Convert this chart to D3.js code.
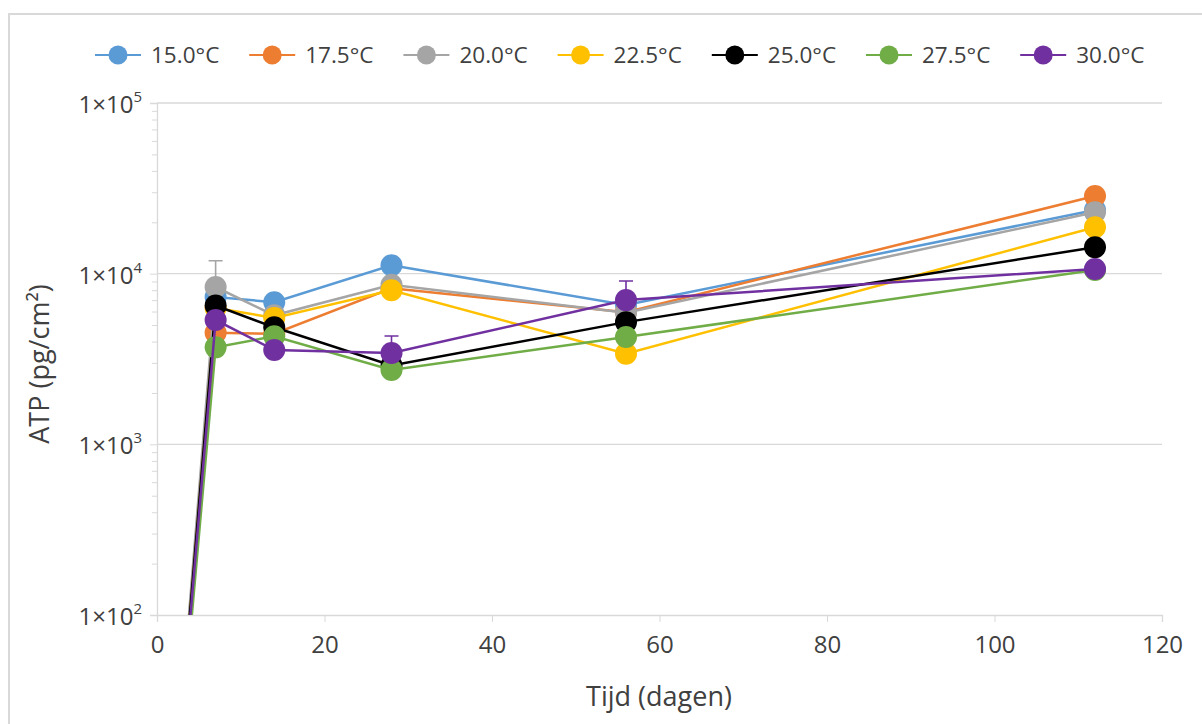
<!DOCTYPE html>
<html>
<head>
<meta charset="utf-8">
<script src="https://cdn.jsdelivr.net/npm/d3@7"></script>
<style>
  body { margin: 0; background: #fff; }
  svg { display: block; font-family: "Open Sans", sans-serif; }
</style>
</head>
<body>
<svg width="1202" height="724"></svg>
<script>
// data (day 0 value sits far below the axis, clipped)
const days = [0, 7, 14, 28, 56, 112];
const seriesNames = ["15.0°C", "17.5°C", "20.0°C", "22.5°C", "25.0°C", "27.5°C", "30.0°C"];
const colors = ["#5B9BD5", "#ED7D31", "#A5A5A5", "#FFC000", "#000000", "#70AD47", "#7030A0"];
const atp15 = [0.5, 7300, 6800, 11200, 6550, 23600];
const atp175 = [0.5, 4500, 4450, 8200, 5950, 28500];
const atp20 = [0.5, 8350, 5700, 8600, 5900, 22900];
const atp225 = [0.5, 6300, 5500, 8000, 3400, 18700];
const atp25 = [0.5, 6500, 4850, 2900, 5200, 14300];
const atp275 = [0.5, 3700, 4300, 2730, 4250, 10500];
const atp30 = [0.5, 5350, 3570, 3430, 7000, 10650];
// upper error bars that are visible
const err20 = [null, 3550, null, null, null, null];
const err30 = [null, null, null, 880, 2060, null];
const xTicks = [0, 20, 40, 60, 80, 100, 120];
const yTicks = [1e2, 1e3, 1e4, 1e5];

const values = [atp15, atp175, atp20, atp225, atp25, atp275, atp30];
const errors = [null, null, err20, null, null, null, err30];

const svg = d3.select("svg");

// chart frame
svg.append("rect")
  .attr("x", 9).attr("y", 14)
  .attr("width", 1210).attr("height", 730)
  .attr("fill", "none")
  .attr("stroke", "#d9d9d9")
  .attr("stroke-width", 2);

const x = d3.scaleLinear().domain([0, 120]).range([157, 1162]);
const y = d3.scaleLog().domain([1e2, 1e5]).range([615, 103]);

// gridlines
svg.append("g")
  .selectAll("line")
  .data(yTicks.slice(1))
  .join("line")
  .attr("x1", x(0)).attr("x2", x(120))
  .attr("y1", (d) => y(d)).attr("y2", (d) => y(d))
  .attr("stroke", "#d9d9d9")
  .attr("stroke-width", 1.3);

// minor y ticks
const minor = [];
yTicks.slice(0, -1).forEach((t) => {
  for (let k = 2; k < 10; k++) minor.push(t * k);
});

const yMinor = svg.append("g")
  .attr("transform", `translate(${x(0)},0)`)
  .call(d3.axisLeft(y).tickValues(minor).tickSize(5).tickFormat(""));
yMinor.select(".domain").remove();
yMinor.selectAll("line").attr("stroke", "#d9d9d9");

// major y axis
const yAxis = svg.append("g")
  .attr("transform", `translate(${x(0)},0)`)
  .call(d3.axisLeft(y).tickValues(yTicks).tickSize(7).tickPadding(8).tickFormat(""));
yAxis.select(".domain").attr("stroke", "#d9d9d9").attr("stroke-width", 1.3);
yAxis.selectAll("line").attr("stroke", "#d9d9d9");
yAxis.selectAll(".tick text")
  .attr("font-size", 24)
  .attr("fill", "#404040")
  .attr("font-family", "Open Sans")
  .attr("dy", "0.4em")
  .each(function (d) {
    const t = d3.select(this);
    t.text("1×10");
    t.append("tspan")
      .attr("font-size", 15)
      .attr("dy", "-0.75em")
      .text(Math.round(Math.log10(d)));
  });

// x axis
const xAxis = svg.append("g")
  .attr("transform", `translate(0,${y(1e2)})`)
  .call(d3.axisBottom(x).tickValues(xTicks).tickSize(7).tickPadding(14));
xAxis.select(".domain").attr("stroke", "#d9d9d9").attr("stroke-width", 1.3);
xAxis.selectAll("line").attr("stroke", "#d9d9d9");
xAxis.selectAll("text")
  .attr("font-size", 24)
  .attr("fill", "#404040")
  .attr("font-family", "Open Sans");

// axis titles
svg.append("text")
  .attr("x", 659).attr("y", 706)
  .attr("text-anchor", "middle")
  .attr("font-size", 27)
  .attr("fill", "#404040")
  .text("Tijd (dagen)");

svg.append("text")
  .attr("transform", "translate(49,364) rotate(-90)")
  .attr("text-anchor", "middle")
  .attr("font-size", 27)
  .attr("fill", "#404040")
  .text("ATP (pg/cm²)");

// plot clip
svg.append("clipPath").attr("id", "plot")
  .append("rect")
  .attr("x", x(0)).attr("y", 60)
  .attr("width", x(120) - x(0) + 40)
  .attr("height", y(1e2) - 60);

const plot = svg.append("g").attr("clip-path", "url(#plot)");

const line = d3.line()
  .x((d) => x(d[0]))
  .y((d) => y(d[1]));

values.forEach((vals, i) => {
  const pts = days.map((d, j) => [d, vals[j]]);
  const g = plot.append("g");

  g.append("path")
    .datum(pts)
    .attr("d", line)
    .attr("fill", "none")
    .attr("stroke", colors[i])
    .attr("stroke-width", 2.5);

  if (errors[i]) {
    const eb = days.map((d, j) => [d, vals[j], errors[i][j]]).filter((e) => e[2] != null);
    g.selectAll(".err")
      .data(eb)
      .join("path")
      .attr("d", (e) => {
        const cx = x(e[0]);
        const top = y(e[1] + e[2]);
        return `M${cx},${y(e[1])}V${top}M${cx - 7},${top}H${cx + 7}`;
      })
      .attr("fill", "none")
      .attr("stroke", colors[i])
      .attr("stroke-width", 1.6);
  }

  g.selectAll("circle")
    .data(pts.filter((p) => p[0] > 0))
    .join("circle")
    .attr("cx", (p) => x(p[0]))
    .attr("cy", (p) => y(p[1]))
    .attr("r", 11)
    .attr("fill", colors[i]);
});

// legend
const legend = svg.append("g");
seriesNames.forEach((name, i) => {
  const cx = 118 + i * 154.2;
  const item = legend.append("g").attr("transform", `translate(${cx},55)`);
  item.append("line")
    .attr("x1", -23).attr("x2", 23)
    .attr("stroke", colors[i])
    .attr("stroke-width", 1.8);
  item.append("circle")
    .attr("r", 9.5)
    .attr("fill", colors[i]);
  item.append("text")
    .attr("x", 33)
    .attr("dy", "0.36em")
    .attr("font-size", 22.5)
    .attr("fill", "#404040")
    .text(name);
});
</script>
</body>
</html>
